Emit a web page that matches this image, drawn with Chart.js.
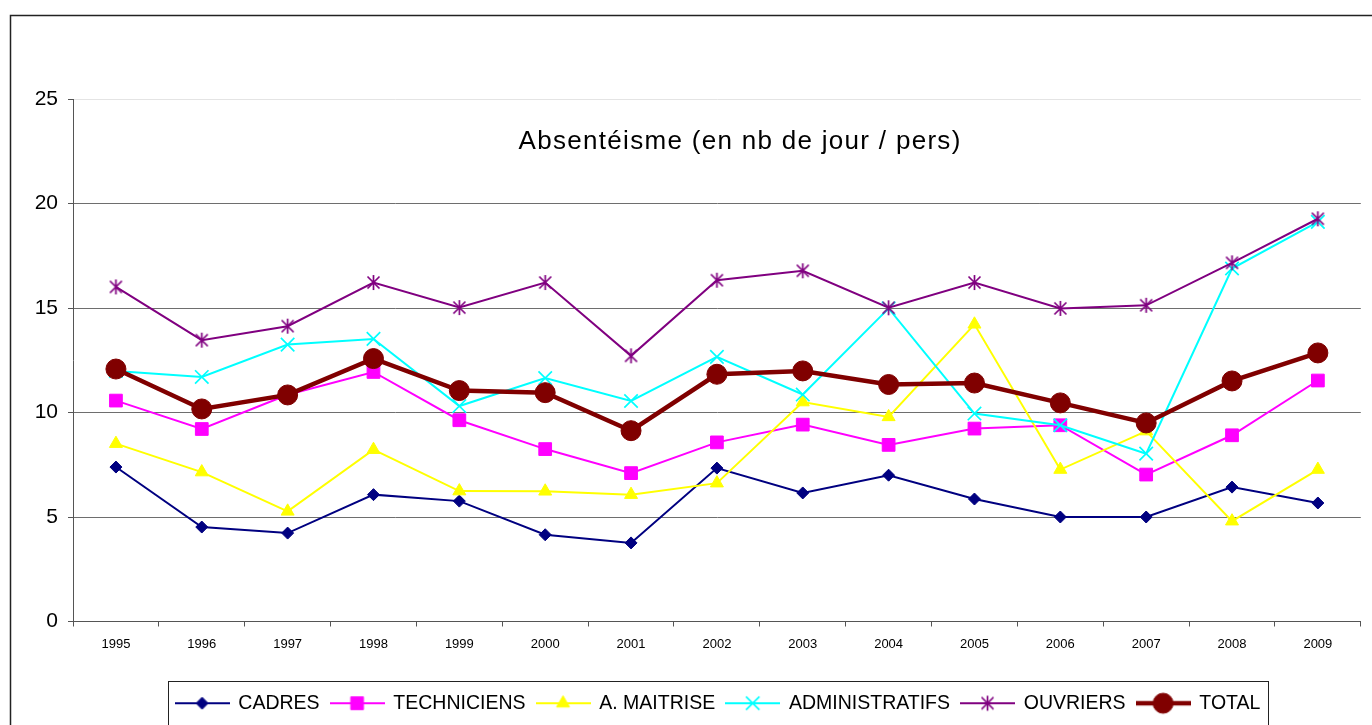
<!DOCTYPE html>
<html>
<head>
<meta charset="utf-8">
<title>Absentéisme</title>
<script src="https://cdn.jsdelivr.net/npm/chart.js@4.4.0/dist/chart.umd.min.js"></script>
<style>
    html, body { margin: 0; padding: 0; background: #fff; overflow: hidden; }
    canvas { display: block; }
</style>
</head>
<body>
<canvas id="absChart" width="1372" height="725"></canvas>
<script>
// Data (nb de jours / pers)
const years = ['1995', '1996', '1997', '1998', '1999', '2000', '2001', '2002', '2003', '2004', '2005', '2006', '2007', '2008', '2009'];
const cadres = [7.39, 4.52, 4.23, 6.07, 5.76, 4.15, 3.76, 7.34, 6.15, 7.0, 5.86, 5.0, 5.0, 6.43, 5.67];
const techniciens = [10.57, 9.21, 10.85, 11.94, 9.63, 8.25, 7.1, 8.57, 9.42, 8.45, 9.23, 9.39, 7.03, 8.91, 11.53];
const maitrise = [8.51, 7.15, 5.27, 8.22, 6.24, 6.23, 6.07, 6.62, 10.5, 9.79, 14.22, 7.27, 9.11, 4.8, 7.27];
const administratifs = [11.99, 11.7, 13.25, 13.52, 10.31, 11.65, 10.55, 12.66, 10.86, 14.98, 9.95, 9.39, 8.03, 16.89, 19.12];
const ouvriers = [16.01, 13.46, 14.13, 16.22, 15.02, 16.22, 12.71, 16.33, 16.78, 15.01, 16.22, 14.98, 15.13, 17.16, 19.27];
const total = [12.08, 10.17, 10.84, 12.58, 11.05, 10.95, 9.13, 11.83, 11.99, 11.34, 11.41, 10.46, 9.5, 11.51, 12.85];
const yTicks = [0, 5, 10, 15, 20, 25];
const titleText = 'Absentéisme (en nb de jour / pers)';

const FONT = '"Liberation Sans", Arial, sans-serif';

// asterisk marker (X + vertical bar), like the Excel one
function asterisk(color, size) {
    const c = document.createElement('canvas');
    c.width = size;
    c.height = size;
    const g = c.getContext('2d');
    const m = size / 2, r = size / 2 - 1, d = r * 0.8;
    g.strokeStyle = color;
    g.lineWidth = 1.7;
    g.beginPath();
    g.moveTo(m - d, m - d); g.lineTo(m + d, m + d);
    g.moveTo(m + d, m - d); g.lineTo(m - d, m + d);
    g.moveTo(m, m - r); g.lineTo(m, m + r);
    g.stroke();
    return c;
}

const series = [
    { label: 'CADRES', data: cadres, color: '#000080', width: 2, style: 'rectRot', radius: 6, border: 1 },
    { label: 'TECHNICIENS', data: techniciens, color: '#FF00FF', width: 2, style: 'rect', radius: 9, border: 1 },
    { label: 'A. MAITRISE', data: maitrise, color: '#FFFF00', width: 2, style: 'triangle', radius: 7.5, border: 1 },
    { label: 'ADMINISTRATIFS', data: administratifs, color: '#00FFFF', width: 2, style: 'crossRot', radius: 9.5, border: 1.7 },
    { label: 'OUVRIERS', data: ouvriers, color: '#800080', width: 2, style: asterisk('#800080', 17), radius: 8, border: 1 },
    { label: 'TOTAL', data: total, color: '#800000', width: 4.5, style: 'circle', radius: 10, border: 1 }
];

// legend icon: short line with the marker in the middle
function legendIcon(s) {
    const c = document.createElement('canvas');
    c.width = 55;
    c.height = 24;
    const g = c.getContext('2d');
    g.strokeStyle = s.color;
    g.fillStyle = s.color;
    g.lineWidth = s.width;
    g.beginPath();
    g.moveTo(0, 12);
    g.lineTo(55, 12);
    g.stroke();
    g.lineWidth = s.border;
    Chart.helpers.drawPoint(g, { pointStyle: s.style, radius: s.radius, rotation: 0, borderWidth: s.border }, 27.5, 12);
    return c;
}

const frame = {
    id: 'frame',
    beforeDraw(chart) {
        const ctx = chart.ctx;
        ctx.save();
        ctx.fillStyle = '#fff';
        ctx.fillRect(0, 0, chart.width, chart.height);
        ctx.strokeStyle = '#222';
        ctx.lineWidth = 1.5;
        ctx.strokeRect(10.5, 15.5, chart.width + 20, chart.height + 20);
        ctx.restore();
    }
};

const innerTitle = {
    id: 'innerTitle',
    beforeDatasetsDraw(chart) {
        const { ctx, chartArea } = chart;
        ctx.save();
        ctx.font = '26px ' + FONT;
        ctx.letterSpacing = '1.3px';
        ctx.fillStyle = '#000';
        ctx.textAlign = 'center';
        ctx.textBaseline = 'middle';
        ctx.fillText(titleText, chartArea.left + chartArea.width * 0.518, chartArea.top + 43);
        ctx.restore();
    }
};

const legendFrame = {
    id: 'legendFrame',
    afterLayout(chart) {
        chart.legend.left += 31;
        chart.legend.right += 31;
    },
    afterDraw(chart) {
        const boxes = chart.legend.legendHitBoxes;
        if (!boxes || !boxes.length) return;
        const first = boxes[0], last = boxes[boxes.length - 1];
        const ctx = chart.ctx;
        ctx.save();
        ctx.strokeStyle = '#222';
        ctx.lineWidth = 1;
        const x0 = Math.round(first.left - 8) + 0.5;
        const x1 = Math.round(last.left + last.width + 8) + 0.5;
        const y0 = Math.round(first.top + first.height / 2 - 22) + 0.5;
        ctx.strokeRect(x0, y0, x1 - x0, 44);
        ctx.restore();
    }
};

new Chart(document.getElementById('absChart'), {
    type: 'line',
    data: {
        labels: years,
        datasets: series.map((s, i) => ({
            label: s.label,
            data: s.data,
            borderColor: s.color,
            backgroundColor: s.color,
            borderWidth: s.width,
            pointStyle: s.style,
            pointRadius: s.radius,
            pointHoverRadius: s.radius,
            pointBorderWidth: s.border,
            tension: 0,
            fill: false,
            order: series.length - i,
            legendIcon: legendIcon(s)
        }))
    },
    options: {
        responsive: false,
        animation: false,
        layout: { padding: { left: 10, right: 8, top: 99, bottom: 2 } },
        scales: {
            x: {
                offset: true,
                grid: { display: true, drawOnChartArea: false, offset: true, tickLength: 5, color: '#555' },
                border: { color: '#555', width: 1 },
                ticks: {
                    color: '#000',
                    font: { family: FONT, size: 13 },
                    padding: 10,
                    maxRotation: 0,
                    autoSkip: false
                },
                afterFit: (scale) => { scale.height = 61; }
            },
            y: {
                min: 0,
                max: 25,
                afterBuildTicks: (scale) => { scale.ticks = yTicks.map(v => ({ value: v })); },
                grid: {
                    tickLength: 5,
                    tickColor: '#555',
                    color: (c) => c.tick && c.tick.value === 25 ? '#e4e4e4' : '#6e6e6e'
                },
                border: { color: '#555', width: 1 },
                ticks: {
                    color: '#000',
                    font: { family: FONT, size: 21 },
                    padding: 10
                },
                afterFit: (scale) => { scale.width = 63; }
            }
        },
        plugins: {
            title: { display: false },
            tooltip: { enabled: false },
            legend: {
                position: 'bottom',
                labels: {
                    usePointStyle: true,
                    pointStyleWidth: 53,
                    boxHeight: 20,
                    padding: 11,
                    color: '#000',
                    font: { family: FONT, size: 19.5 },
                    sort: (a, b) => a.datasetIndex - b.datasetIndex,
                    generateLabels: (chart) => chart.data.datasets.map((ds, i) => ({
                        text: ds.label,
                        pointStyle: ds.legendIcon,
                        fillStyle: ds.borderColor,
                        strokeStyle: ds.borderColor,
                        lineWidth: 0,
                        fontColor: '#000',
                        hidden: false,
                        datasetIndex: i
                    }))
                }
            }
        }
    },
    plugins: [frame, innerTitle, legendFrame]
});
</script>
</body>
</html>
